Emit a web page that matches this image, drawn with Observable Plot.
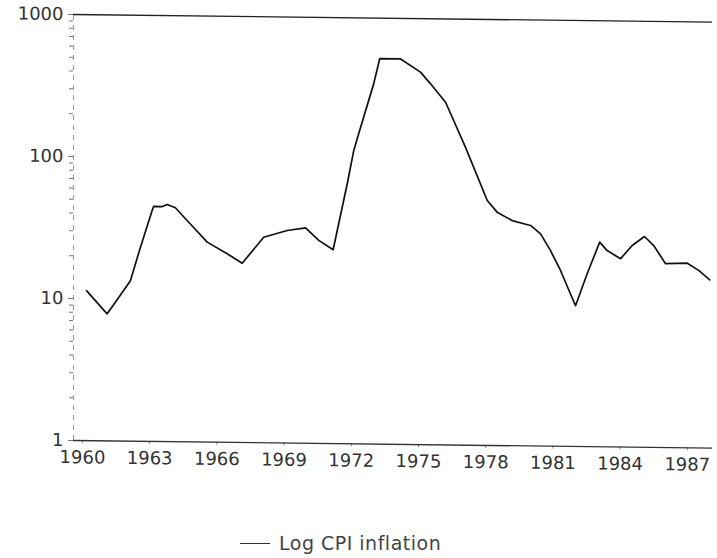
<!DOCTYPE html>
<html>
<head>
<meta charset="utf-8">
<script src="https://cdn.jsdelivr.net/npm/d3@7"></script>
<script src="https://cdn.jsdelivr.net/npm/@observablehq/plot@0.6"></script>
<style>
  html, body { margin: 0; padding: 0; background: #fff; }
  #wrap { position: relative; width: 717px; height: 558px; overflow: hidden; font-family: "DejaVu Sans", sans-serif; background: #fff; }
  #chart { position: absolute; left: 0; top: 0; transform-origin: 73px 14px; transform: skewY(0.68deg); }
  #legend { position: absolute; left: 240px; top: 532px; display: flex; align-items: center; color: #444; font-size: 19px; letter-spacing: 0.5px; }
  #legend .sw { width: 30px; height: 0; border-top: 1.3px solid #333; margin-right: 9px; }
</style>
</head>
<body>
<div id="wrap"><div id="chart"></div><div id="legend"><span class="sw"></span><span>Log CPI inflation</span></div></div>
<script>
// Series: Log CPI inflation, decimal year vs value
const years = [1960.18, 1961.10, 1961.47, 1962.14, 1962.59, 1963.11, 1963.18, 1963.57, 1963.78, 1964.15,
  1964.67, 1965.57, 1966.46, 1967.13, 1968.09, 1969.14, 1969.96, 1970.55, 1971.19, 1971.82,
  1972.11, 1972.33, 1973.00, 1973.27, 1974.20, 1975.09, 1975.54, 1976.21, 1977.10, 1978.07,
  1978.51, 1979.18, 1980.00, 1980.45, 1980.89, 1981.34, 1982.01, 1982.53, 1983.09, 1983.42,
  1984.02, 1984.54, 1985.09, 1985.50, 1986.03, 1987.00, 1987.51, 1988.00];
const cpi = [11.4, 7.85, 9.5, 13.5, 23.3, 42.3, 45.2, 45.2, 46.8, 44.4,
  36.2, 25.6, 21.3, 18.3, 28.0, 31.4, 32.9, 26.9, 23.2, 67.7,
  116, 153, 344, 518, 518, 420, 348, 259, 125, 53.1,
  44.0, 38.5, 35.7, 31.2, 23.9, 17.3, 9.8, 16.5, 27.6, 24.1,
  21.2, 26.3, 30.5, 26.4, 19.7, 19.95, 17.8, 15.3];
const xTicks = [1960, 1963, 1966, 1969, 1972, 1975, 1978, 1981, 1984, 1987];
const yTicks = [1, 10, 100, 1000];
const yMinor = [2, 3, 4, 5, 6, 7, 8, 9, 20, 30, 40, 50, 60, 70, 80, 90, 200, 300, 400, 500, 600, 700, 800, 900];

const data = years.map((y, i) => ({year: y, value: cpi[i]}));
const x0 = 1959.6, x1 = 1988.125;

const chart = Plot.plot({
  width: 717,
  height: 470,
  marginLeft: 73,
  marginRight: 5,
  marginTop: 14,
  marginBottom: 30,
  style: {fontFamily: "DejaVu Sans, sans-serif", color: "#333", background: "transparent", overflow: "visible"},
  x: {domain: [x0, x1]},
  y: {type: "log", domain: [1, 1000]},
  marks: [
    Plot.ruleX([x0], {y1: 1, y2: 1000, stroke: "#999", strokeWidth: 1, strokeDasharray: "5,5"}),
    Plot.axisY({ticks: yMinor, tickSize: 4, tickFormat: () => "", label: null, stroke: "#777"}),
    Plot.axisY({ticks: yTicks, tickSize: 5, tickPadding: 5, tickFormat: d => String(d), label: null,
      fontSize: 18, fill: "#333", stroke: "#777", style: "letter-spacing:1.5px"}),
    Plot.axisX({ticks: xTicks, tickSize: 3, tickPadding: 7, tickFormat: d => String(d), label: null,
      fontSize: 18, fill: "#333", stroke: "#888", style: "letter-spacing:1.5px"}),
    Plot.ruleY([1000], {x1: x0, x2: x1, stroke: "#222", strokeWidth: 1.4}),
    Plot.ruleY([1], {x1: x0, x2: x1, stroke: "#333", strokeWidth: 1.4}),
    Plot.line(data, {x: "year", y: "value", stroke: "#111", strokeWidth: 1.7})
  ]
});
document.getElementById("chart").appendChild(chart);
</script>
</body>
</html>
